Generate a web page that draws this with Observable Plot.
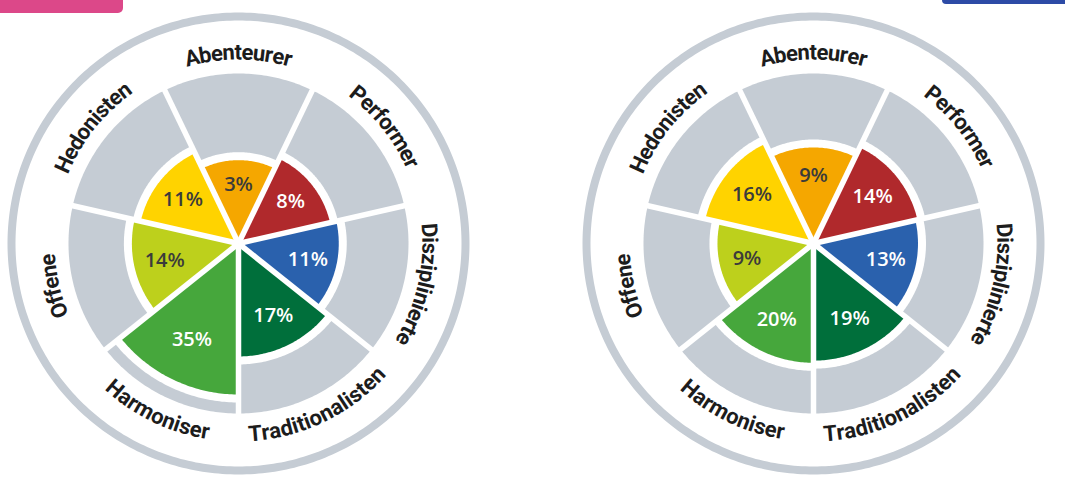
<!DOCTYPE html>
<html><head><meta charset="utf-8">
<script src="https://cdn.jsdelivr.net/npm/d3@7"></script>
<script src="https://cdn.jsdelivr.net/npm/@observablehq/plot@0.6"></script>
<style>
html,body{margin:0;padding:0;background:#fff;}
#wrap{position:relative;width:1065px;height:484px;overflow:hidden;background:#fff;}
.panel{position:absolute;top:1px;}
.tab{position:absolute;top:0;}
</style></head><body>
<div id="wrap">
  <div class="tab" style="left:0;width:123px;height:13px;background:#dc4889;border-bottom-right-radius:5px"></div>
  <div class="tab" style="left:942px;width:123px;height:4px;background:#2d4ba6;border-bottom-left-radius:4px"></div>
</div>
<script>
// ---- data ----
const categories = ["Abenteurer", "Performer", "Disziplinierte", "Traditionalisten", "Harmoniser", "Offene", "Hedonisten"];
const valuesLeft  = [3, 8, 11, 17, 35, 14, 11];
const valuesRight = [9, 14, 13, 19, 20, 9, 16];
const sliceColors = ["#f5a700", "#b0292c", "#2a61ad", "#006f3b", "#46a73c", "#bdd01c", "#ffd300"];

// ---- geometry helpers ----
const N = categories.length;
const step = 360 / N;
const rad = d3.scaleLinear().domain([0, 35]).range([77, 151]); // value -> radius (px units)
const GRAY = "#c5ccd4";
const toXY = (a, r) => ({x: r * Math.sin(a * Math.PI / 180), y: r * Math.cos(a * Math.PI / 180)});

function wedge(i, r, key, extra = {}) {
  const a0 = i * step - step / 2, a1 = i * step + step / 2, n = 60;
  const pts = [{k: key, x: 0, y: 0, ...extra}];
  for (let j = 0; j <= n; j++) pts.push({k: key, ...toXY(a0 + (a1 - a0) * j / n, r), ...extra});
  pts.push({k: key, x: 0, y: 0, ...extra});
  return pts;
}
function circle(r) {
  const pts = [];
  for (let j = 0; j <= 360; j++) pts.push(toXY(j, r));
  return pts;
}

const LABEL_FONT = "Roboto, 'Liberation Sans', sans-serif";
const LABEL_SIZE = 22;
const LABEL_WEIGHT = "bold";
const SPACING = 0.97;
const ctx = document.createElement("canvas").getContext("2d");
ctx.font = `${LABEL_WEIGHT} ${LABEL_SIZE}px ${LABEL_FONT}`;

function labelChars(name, i, R) {
  const chars = [...name];
  const w = chars.map(c => ctx.measureText(c).width * SPACING);
  const total = d3.sum(w);
  const theta = i * step;
  const bottom = Math.cos(theta * Math.PI / 180) < -0.5;
  let acc = 0;
  return chars.map((c, j) => {
    const s = acc + w[j] / 2 - total / 2;
    acc += w[j];
    const da = s / R * 180 / Math.PI;
    const a = bottom ? theta - da : theta + da;
    return {ch: c, ...toXY(a, R), rot: bottom ? a - 180 : a};
  });
}

function panel(values) {
  const gray = categories.flatMap((c, i) => wedge(i, 170, c));
  const pads = categories.flatMap((c, i) => wedge(i, rad(values[i]) + 8, c));
  const slices = categories.flatMap((c, i) => wedge(i, rad(values[i]), c, {cat: c}));
  const seps = categories.map((c, i) => {
    const a = i * step + step / 2, p = toXY(a, 171);
    return {x1: 0, y1: 0, x2: p.x, y2: p.y};
  });
  const pct = categories.map((c, i) => ({
    cat: c, v: values[i], ...toXY(i * step, 0.71 * rad(values[i])),
    dark: d3.lab(sliceColors[i]).l < 65
  }));
  const chars = categories.flatMap((c, i) => labelChars(c, i, 191));
  const pctOpts = {x: "x", y: "y", text: d => d.v + "%", fontSize: 20, fontWeight: 600,
    fontFamily: "'Open Sans', 'Noto Sans', sans-serif", textAnchor: "middle", lineAnchor: "middle"};
  return Plot.plot({
    width: 484, height: 484, margin: 0,
    x: {domain: [-242, 242], axis: null},
    y: {domain: [-242, 242], axis: null},
    color: {domain: categories, range: sliceColors},
    marks: [
      Plot.line(circle(227), {x: "x", y: "y", stroke: GRAY, strokeWidth: 8, fill: "none"}),
      Plot.line(gray, {x: "x", y: "y", z: "k", fill: GRAY, stroke: "none"}),
      Plot.line(pads, {x: "x", y: "y", z: "k", fill: "white", stroke: "none"}),
      Plot.line(slices, {x: "x", y: "y", z: "k", fill: "cat", stroke: "none"}),
      Plot.link(seps, {x1: "x1", y1: "y1", x2: "x2", y2: "y2", stroke: "white", strokeWidth: 5.5}),
      Plot.text(pct.filter(d => d.dark), {...pctOpts, fill: "white"}),
      Plot.text(pct.filter(d => !d.dark), {...pctOpts, fill: "#3b3b3b"}),
      Plot.text(chars, {x: "x", y: "y", text: "ch", rotate: "rot", fontSize: LABEL_SIZE,
        fontWeight: LABEL_WEIGHT, fontFamily: LABEL_FONT, fill: "#1c1c1c",
        textAnchor: "middle", lineAnchor: "middle"})
    ]
  });
}

const wrap = document.getElementById("wrap");
const left = panel(valuesLeft);
left.classList.add("panel"); left.style.left = "-4px";
const right = panel(valuesRight);
right.classList.add("panel"); right.style.left = "571px";
wrap.appendChild(left);
wrap.appendChild(right);
</script>
</body></html>
